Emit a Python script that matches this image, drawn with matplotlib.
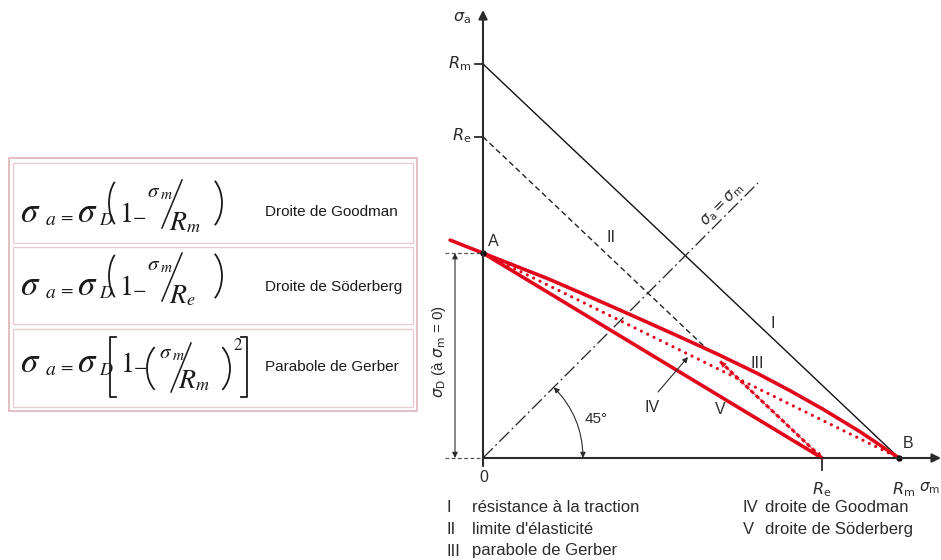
"""
Diagramme de Haigh : droites de Goodman, Söderberg et parabole de Gerber
"""

###############################################################################
# Libraries
import matplotlib
matplotlib.use('Agg')
import matplotlib.pyplot as plt
from matplotlib.patches import Rectangle, Arc

plt.rcParams['font.family'] = ['Liberation Sans', 'DejaVu Sans']
plt.rcParams['mathtext.fontset'] = 'dejavusans'

####################################
# Data (Rm = 1)
Rm = 1.0
Re = 0.815
sD = 0.52

# parabole de Gerber (III)
gerber_x = [-0.079, 0.0, 0.072, 0.154, 0.233, 0.313, 0.394, 0.474, 0.565, 0.659,
            0.738, 0.817, 0.906, 1.0]
gerber_y = [0.553, 0.52, 0.490, 0.456, 0.420, 0.383, 0.345, 0.307, 0.263, 0.215,
            0.171, 0.124, 0.067, 0.0]

# droite de Goodman (IV) et de Söderberg (V)
goodman_x = [0.0, Rm]
goodman_y = [sD, 0.0]
soder_x = [0.0, Re]
soder_y = [sD, 0.0]

# limite d'élasticité (II) : partie noire puis partie rouge
lim_x = [0.0, 0.535]
lim_y = [Re, Re - 0.535]
lim_red_x = [0.57, Re]
lim_red_y = [Re - 0.57, 0.0]

# résistance à la traction (I)
res_x = [0.0, Rm]
res_y = [Rm, 0.0]

# droite sigma_a = sigma_m
diag_x = [0.0, 0.661]
diag_y = [0.0, 0.698]

names = ['Droite de Goodman', 'Droite de Söderberg', 'Parabole de Gerber']
denoms = ['m', 'e', 'm']

legend_left = [('I', 'résistance à la traction'), ('II', "limite d'élasticité"),
               ('III', 'parabole de Gerber')]
legend_right = [('IV', 'droite de Goodman'), ('V', 'droite de Söderberg')]

####################################
# Layout helpers (pixels -> data)
W, H = 941, 560
OX, OY, SX, SY = 483, 458, 416, 394

def P(px, py):
    return (px - OX) / SX, (OY - py) / SY

RED = '#e3051b'
DARK = '#2b2b2b'

fig = plt.figure(figsize=(W / 100, H / 100), dpi=100)
ax = fig.add_axes([0, 0, 1, 1])
ax.set_xlim(P(0, 0)[0], P(W, 0)[0])
ax.set_ylim(P(0, H)[1], P(0, 0)[1])
ax.axis('off')

# second axes in pixel units for the formula table
tb = fig.add_axes([0, 0, 1, 1])
tb.set_xlim(0, W)
tb.set_ylim(H, 0)
tb.axis('off')

####################################
# Axes with arrows
ax.annotate('', xy=(0, P(0, 10)[1]), xytext=(0, P(0, 466)[1]),
            arrowprops=dict(arrowstyle='-|>', lw=1.5, color=DARK, mutation_scale=13,
                            shrinkA=0, shrinkB=0))
ax.annotate('', xy=(P(941, 0)[0], 0), xytext=(0, 0),
            arrowprops=dict(arrowstyle='-|>', lw=1.5, color=DARK, mutation_scale=13,
                            shrinkA=0, shrinkB=0))
tk = 8 / SX
for yv in [Rm, Re]:
    ax.plot([-tk, 0], [yv, yv], color=DARK, lw=1.3)
ax.plot([Re, Re], [0, -12 / SY], color=DARK, lw=1.3)

####################################
# Lines I and II, diagonal
ax.plot(res_x, res_y, color='#111111', lw=1.0)
ax.plot(lim_x, lim_y, color='#222222', lw=1.0, dashes=(4, 2.5))
ax.plot(diag_x, diag_y, color='#222222', lw=0.9, dashes=(11, 3, 1.5, 3))

####################################
# Red curves
ax.plot(gerber_x, gerber_y, color=RED, lw=2.6, solid_capstyle='round',
        solid_joinstyle='round')
ax.plot(soder_x, soder_y, color=RED, lw=2.6, solid_capstyle='round')
ax.plot(goodman_x, goodman_y, color=RED, lw=2.3, dashes=(0.01, 2.2),
        dash_capstyle='round')
ax.plot(lim_red_x, lim_red_y, color=RED, lw=2.2, dashes=(1.4, 0.9))
ax.annotate('', xy=(lim_red_x[1], lim_red_y[1]), xytext=(lim_red_x[0], lim_red_y[0]),
            arrowprops=dict(arrowstyle='<|-|>', lw=0.5, color=RED, mutation_scale=9,
                            shrinkA=0, shrinkB=0))

ax.plot([0, Rm], [sD, 0], 'o', color='black', ms=3.5, ls='none')

####################################
# sigma_D dimension
for yv in [0, sD]:
    ax.plot([P(445, 0)[0], 0], [yv, yv], color='#555555', lw=0.9, dashes=(3, 2))
ax.annotate('', xy=(P(455, 0)[0], sD), xytext=(P(455, 0)[0], 0),
            arrowprops=dict(arrowstyle='<|-|>', lw=0.8, color=DARK, mutation_scale=8,
                            shrinkA=0, shrinkB=0))
ax.text(*P(439, 352), r'$\sigma_\mathrm{D}$ (à $\sigma_\mathrm{m}$ = 0)', rotation=90,
        ha='center', va='center', fontsize=11, color=DARK)

####################################
# 45 degree arc
ax.annotate('', xy=P(553.7, 387.3), xytext=P(583, 458),
            arrowprops=dict(arrowstyle='<|-|>', lw=0.8, color=DARK, mutation_scale=8,
                            shrinkA=0, shrinkB=0, connectionstyle='arc3,rad=0.2'))
ax.text(*P(596, 419), '45°', ha='center', va='center', fontsize=11, color=DARK)

# IV pointer
ax.annotate('', xy=P(688, 357), xytext=P(658, 392),
            arrowprops=dict(arrowstyle='-|>', lw=0.8, color=DARK, mutation_scale=8,
                            shrinkA=0, shrinkB=0))

####################################
# Labels
lab = dict(ha='center', va='center', fontsize=11.5, color=DARK)
ax.text(*P(462, 18), r'$\sigma_\mathrm{a}$', **lab)
ax.text(*P(460, 64), r'$R_\mathrm{m}$', **lab)
ax.text(*P(462, 136), r'$R_\mathrm{e}$', **lab)
ax.text(*P(484, 478), '0', **lab)
ax.text(*P(822, 490), r'$R_\mathrm{e}$', **lab)
ax.text(*P(904, 490), r'$R_\mathrm{m}$', **lab)
ax.text(*P(919, 488), r'$\sigma_\mathrm{m}$', ha='left', va='center', fontsize=11,
        color=DARK)
ax.text(*P(493, 241), 'A', **lab)
ax.text(*P(908, 444), 'B', **lab)
ax.text(*P(773, 323), 'I', **lab)
ax.text(*P(611, 237), 'II', **lab)
ax.text(*P(757, 364), 'III', **lab)
ax.text(*P(652, 408), 'IV', **lab)
ax.text(*P(720, 410), 'V', **lab)
ax.text(*P(723, 205), r'$\sigma_\mathrm{a} = \sigma_\mathrm{m}$', rotation=45,
        ha='center', va='center', fontsize=10.5, color=DARK)

####################################
# Legend below
for i, (num, txt) in enumerate(legend_left):
    ax.text(*P(447, 508 + 21.5 * i), num, ha='left', va='center', fontsize=12, color=DARK)
    ax.text(*P(472, 508 + 21.5 * i), txt, ha='left', va='center', fontsize=12, color=DARK)
for i, (num, txt) in enumerate(legend_right):
    ax.text(*P(743, 508 + 21.5 * i), num, ha='left', va='center', fontsize=12, color=DARK)
    ax.text(*P(765, 508 + 21.5 * i), txt, ha='left', va='center', fontsize=12, color=DARK)

####################################
# Formula table (drawn in pixel units)
INK = '#1a1a1a'

def m(s, x, y, size):
    tb.text(x, y, '$' + s + '$', ha='left', va='baseline', fontsize=size, color=INK,
            math_fontfamily='stix')

def paren(xl, xr, yt, yb, left=True):
    a = 2 * (xr - xl)
    b = (yb - yt) / 2 / 0.866
    cy = (yt + yb) / 2
    if left:
        tb.add_patch(Arc((xl + a, cy), 2 * a, 2 * b, theta1=120, theta2=240,
                         color=INK, lw=1.3))
    else:
        tb.add_patch(Arc((xr - a, cy), 2 * a, 2 * b, theta1=-60, theta2=60,
                         color=INK, lw=1.3))

def bracket(x, yt, yb, d):
    tb.plot([x + d, x, x, x + d], [yt, yt, yb, yb], color=INK, lw=1.3)

tb.add_patch(Rectangle((9, 158), 408, 253, fill=False, ec='#dcb4b8', lw=1.2))
rows = [(163, 243), (247, 324), (329, 407)]
for (ra, rb) in rows:
    tb.add_patch(Rectangle((13, ra), 400, rb - ra, fill=False, ec='#e6cdd0', lw=1.0))

baselines = [222, 295, 372]
text_y = [212, 287, 367]
for k, (yb, nm, dn) in enumerate(zip(baselines, names, denoms)):
    m(r'\sigma', 20, yb, 25)
    m('a', 45, yb + 3, 14)
    m('=', 58, yb - 1, 13)
    m(r'\sigma', 77, yb, 25)
    m('D', 99, yb + 3, 13)
    if k < 2:
        paren(109, 118, yb - 44, yb + 6, True)
        m('1', 119, yb, 20)
        m('-', 132, yb - 1, 14)
        m(r'\sigma', 147, yb - 25, 15)
        m('m', 160, yb - 23, 11)
        tb.plot([162, 182], [yb + 6, yb - 42], color=INK, lw=1.1)
        m('R', 169, yb + 8, 20)
        m(dn, 186, yb + 10, 13)
        paren(212, 222, yb - 44, yb + 6, False)
    else:
        bracket(110, yb - 35, yb + 25, 6)
        m('1', 120, yb, 20)
        m('-', 133, yb - 1, 14)
        paren(147, 157, yb - 27, yb + 20, True)
        m(r'\sigma', 159, yb - 14, 15)
        m('m', 172, yb - 12, 11)
        tb.plot([171, 191], [yb + 20, yb - 29], color=INK, lw=1.1)
        m('R', 178, yb + 16, 20)
        m(dn, 195, yb + 18, 13)
        paren(220, 230, yb - 27, yb + 20, False)
        m('2', 233, yb - 22, 12)
        bracket(247, yb - 35, yb + 25, -6)
    tb.text(265, text_y[k], nm, ha='left', va='center', fontsize=11, color=INK)

plt.savefig('out.png', dpi=100)
